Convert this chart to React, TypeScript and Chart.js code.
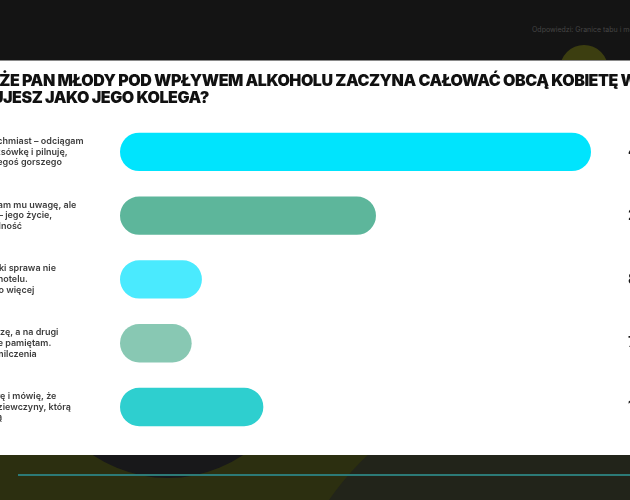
import { useEffect, useRef } from 'react';
import { Chart, registerables } from 'chart.js';

Chart.register(...registerables);

// answers (label lines) – the card is cropped on the left, so only the ends show
const answers = [
  ['Interweniuję natychmiast – odciągam', 'go, zamawiam taksówkę i pilnuję,', 'żeby nie zrobił czegoś gorszego'],
  ['Dyskretnie zwracam mu uwagę, ale', 'nie ingeruję dalej – jego życie,', 'jego odpowiedzialność'],
  ['Nie reaguję, dopóki sprawa nie', 'przeniesie się do hotelu.', 'Wtedy zrobię dużo więcej'],
  ['Stoję z boku i patrzę, a na drugi', 'dzień udaję, że nie pamiętam.', 'Liczy się zmowa milczenia'],
  ['Robię mu awanturę i mówię, że', 'powinien iść do dziewczyny, którą', 'kocha, a nie z inną'],
];
const shares = [46, 25, 8, 7, 14];
const barColors = ['#00e4fd', '#5db69b', '#4aeafe', '#88c8b3', '#2ecfcf'];
const titleLines = [
  'WIDZISZ, ŻE PAN MŁODY POD WPŁYWEM ALKOHOLU ZACZYNA CAŁOWAĆ OBCĄ KOBIETĘ W KĄCIE SALI. JAK',
  'TY REAGUJESZ JAKO JEGO KOLEGA?',
];

const valueLabels = {
  id: 'valueLabels',
  afterDatasetsDraw(chart: Chart) {
    const { ctx, chartArea } = chart;
    const meta = chart.getDatasetMeta(0);
    ctx.save();
    ctx.font = 'bold 14px Inter';
    ctx.fillStyle = '#151515';
    ctx.textAlign = 'left';
    ctx.textBaseline = 'middle';
    meta.data.forEach((bar: any, i: number) => {
      ctx.fillText(shares[i] + '%', chartArea.right + 37, bar.y);
    });
    ctx.restore();
  },
};

function AnswersChart() {
  const canvasRef = useRef<HTMLCanvasElement>(null);

  useEffect(() => {
    if (!canvasRef.current) return;
    const chart = new Chart(canvasRef.current, {
      type: 'bar',
      data: {
        labels: answers,
        datasets: [{
          data: shares,
          backgroundColor: barColors,
          borderRadius: 20,
          borderSkipped: false,
          barPercentage: 1,
          categoryPercentage: 0.603,
        }],
      },
      options: {
        indexAxis: 'y',
        responsive: false,
        animation: false,
        layout: { padding: { left: 0, right: 99, top: 59, bottom: 4 } },
        plugins: {
          legend: { display: false },
          tooltip: { enabled: false },
        },
        scales: {
          x: { display: false, min: 0, max: Math.max(...shares) },
          y: {
            grid: { display: false },
            border: { display: false },
            afterFit: (axis: any) => { axis.width = 198; },
            ticks: {
              crossAlign: 'far',
              padding: 0,
              color: '#3d3d3d',
              font: { family: 'Inter', size: 9, weight: 600, lineHeight: 1.2 },
            },
          },
        },
      },
      plugins: [valueLabels],
    });
    return () => chart.destroy();
  }, []);

  return <canvas ref={canvasRef} width={768} height={394} style={{ position: 'absolute', left: -78, top: 0 }} />;
}

export default function App() {
  return (
    <div style={{ position: 'fixed', inset: 0, background: '#141414', overflow: 'hidden', fontFamily: 'Inter' }}>
      <div style={{ position: 'absolute', left: 532, top: 25, fontSize: 7, color: '#454545', whiteSpace: 'nowrap' }}>
        Odpowiedzi: Granice tabu i moralności
      </div>
      <div style={{ position: 'absolute', left: 560, top: 45, width: 48, height: 48, borderRadius: '50%', background: '#3c3e10' }} />
      <div style={{ position: 'absolute', left: 0, top: 455, width: 630, height: 45, background: '#2c2f10', overflow: 'hidden' }}>
        <div style={{ position: 'absolute', left: 279, top: 205 - 281, width: 562, height: 562, borderRadius: '50%', background: '#22241a' }} />
        <div style={{ position: 'absolute', left: 34, top: -245, width: 268, height: 268, borderRadius: '50%', background: '#18181a' }} />
        <div style={{ position: 'absolute', left: 18, top: 19, width: 612, height: 1.5, background: '#2c7a77' }} />
      </div>
      <div style={{ position: 'absolute', left: 0, top: 60, width: 630, height: 395, background: '#fff', borderTop: '1px solid #8a8a8a', boxSizing: 'border-box', overflow: 'hidden' }}>
        <AnswersChart />
        <div style={{ position: 'absolute', left: -76, top: 11, font: '900 16px Inter', lineHeight: '17px', letterSpacing: '-0.45px', color: '#111', whiteSpace: 'pre' }}>
          {titleLines.join('\n')}
        </div>
      </div>
    </div>
  );
}
